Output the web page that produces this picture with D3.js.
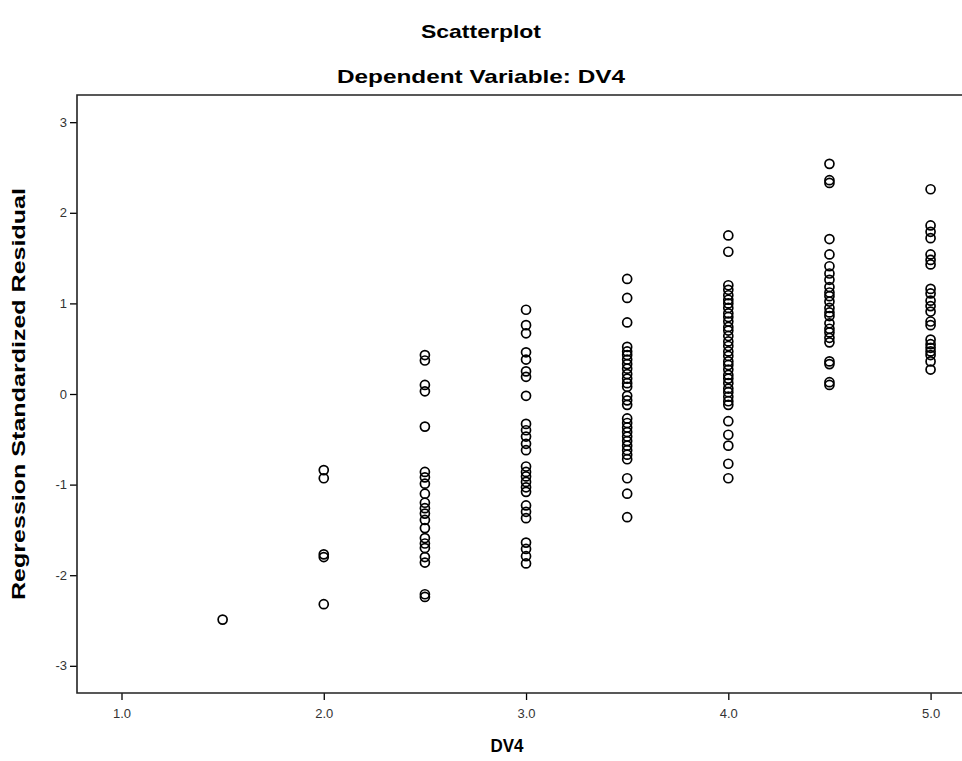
<!DOCTYPE html>
<html>
<head>
<meta charset="utf-8">
<script src="https://cdn.jsdelivr.net/npm/d3@7"></script>
<style>
  body { margin: 0; background: #fff; }
  text { font-family: "Liberation Sans", Arial, sans-serif; }
</style>
</head>
<body>
<svg id="chart"></svg>
<script>
// DV4 categories and the residuals seen at each one
const dv4Levels = [1.5, 2.0, 2.5, 3.0, 3.5, 4.0, 4.5, 5.0];
const res15 = [-2.49];
const res20 = [-0.84, -0.93, -1.77, -1.80, -2.32];
const res25 = [0.43, 0.37, 0.10, 0.03, -0.36, -0.86, -0.92, -0.99, -1.10, -1.20, -1.26, -1.32, -1.39,
               -1.48, -1.59, -1.65, -1.70, -1.80, -1.86, -2.21, -2.24];
const res30 = [0.93, 0.76, 0.67, 0.46, 0.38, 0.25, 0.19, -0.02, -0.33, -0.40, -0.47, -0.55, -0.62,
               -0.80, -0.86, -0.91, -0.97, -1.03, -1.08, -1.23, -1.30, -1.37, -1.64, -1.71, -1.79, -1.87];
const res35 = [1.27, 1.06, 0.79, 0.52, 0.47, 0.43, 0.38, 0.33, 0.28, 0.22, 0.17, 0.12, 0.08, -0.02,
               -0.07, -0.12, -0.27, -0.32, -0.37, -0.42, -0.47, -0.52, -0.57, -0.62, -0.67, -0.72,
               -0.93, -1.10, -1.36];
const res40 = [1.75, 1.57, 1.20, 1.15, 1.09, 1.04, 1.00, 0.95, 0.89, 0.85, 0.80, 0.74, 0.70, 0.64,
               0.58, 0.53, 0.47, 0.42, 0.36, 0.32, 0.27, 0.21, 0.17, 0.12, 0.06, 0.02, -0.03, -0.08,
               -0.12, -0.30, -0.45, -0.57, -0.77, -0.93];
const res45 = [2.54, 2.36, 2.33, 1.71, 1.54, 1.41, 1.33, 1.26, 1.18, 1.12, 1.08, 1.02, 0.95, 0.90,
               0.86, 0.78, 0.72, 0.68, 0.62, 0.57, 0.36, 0.33, 0.13, 0.10];
const res50 = [2.26, 1.86, 1.79, 1.72, 1.54, 1.48, 1.43, 1.16, 1.11, 1.03, 0.97, 0.91, 0.80, 0.76,
               0.60, 0.55, 0.51, 0.47, 0.43, 0.36, 0.27];
const residualsByLevel = [res15, res20, res25, res30, res35, res40, res45, res50];

const xTicks = [1.0, 2.0, 3.0, 4.0, 5.0];
const yTicks = [-3, -2, -1, 0, 1, 2, 3];

const width = 962, height = 761;
const plotLeft = 77, plotTop = 95, plotBottom = 693, plotRight = 968;

const svg = d3.select("#chart")
    .attr("width", width)
    .attr("height", height);

const x = d3.scaleLinear().domain([0.78, 5.185]).range([plotLeft, plotRight]);
const y = d3.scaleLinear().domain([-3.3, 3.3]).range([plotBottom, plotTop]);

// flatten into points
const points = [];
dv4Levels.forEach((lvl, i) => {
    residualsByLevel[i].forEach(r => points.push({dv4: lvl, res: r}));
});

// titles (SPSS renders these wide, so stretch to the measured widths)
svg.append("text")
    .attr("x", 481).attr("y", 38)
    .attr("text-anchor", "middle")
    .attr("textLength", 120).attr("lengthAdjust", "spacingAndGlyphs")
    .style("font-size", "19px").style("font-weight", "bold")
    .text("Scatterplot");

svg.append("text")
    .attr("x", 481).attr("y", 83)
    .attr("text-anchor", "middle")
    .attr("textLength", 288).attr("lengthAdjust", "spacingAndGlyphs")
    .style("font-size", "19px").style("font-weight", "bold")
    .text("Dependent Variable: DV4");

// axes
const xAxis = d3.axisBottom(x).tickValues(xTicks).tickFormat(d3.format(".1f")).tickSize(7).tickSizeOuter(0);
const yAxis = d3.axisLeft(y).tickValues(yTicks).tickFormat(d => String(d)).tickSize(7).tickSizeOuter(0);

const gx = svg.append("g").attr("transform", `translate(0,${plotBottom})`).call(xAxis);
const gy = svg.append("g").attr("transform", `translate(${plotLeft},0)`).call(yAxis);

[gx, gy].forEach(g => {
    g.select(".domain").remove();
    g.selectAll(".tick line").attr("stroke", "#000").attr("stroke-width", 1.3);
    g.selectAll(".tick text")
        .attr("fill", "#333")
        .style("font-size", "13px")
        .style("font-family", "'Liberation Sans', Arial, sans-serif");
});
gx.selectAll(".tick text").attr("dy", "1.15em");
gy.selectAll(".tick text").attr("x", -10);

// frame
svg.append("path")
    .attr("d", `M${plotRight},${plotTop}H${plotLeft}V${plotBottom}H${plotRight}`)
    .attr("fill", "none")
    .attr("stroke", "#222")
    .attr("stroke-width", 1.6);

// points
svg.append("g")
    .selectAll("circle")
    .data(points)
    .join("circle")
    .attr("cx", d => x(d.dv4))
    .attr("cy", d => y(d.res))
    .attr("r", 4.5)
    .attr("fill", "none")
    .attr("stroke", "#000")
    .attr("stroke-width", 1.7);

// axis titles
svg.append("text")
    .attr("x", 507).attr("y", 752)
    .attr("text-anchor", "middle")
    .attr("textLength", 33).attr("lengthAdjust", "spacingAndGlyphs")
    .style("font-size", "18px").style("font-weight", "bold")
    .text("DV4");

svg.append("text")
    .attr("transform", `translate(25,${(plotTop + plotBottom) / 2}) rotate(-90)`)
    .attr("text-anchor", "middle")
    .attr("textLength", 412).attr("lengthAdjust", "spacingAndGlyphs")
    .style("font-size", "18px").style("font-weight", "bold")
    .text("Regression Standardized Residual");
</script>
</body>
</html>
